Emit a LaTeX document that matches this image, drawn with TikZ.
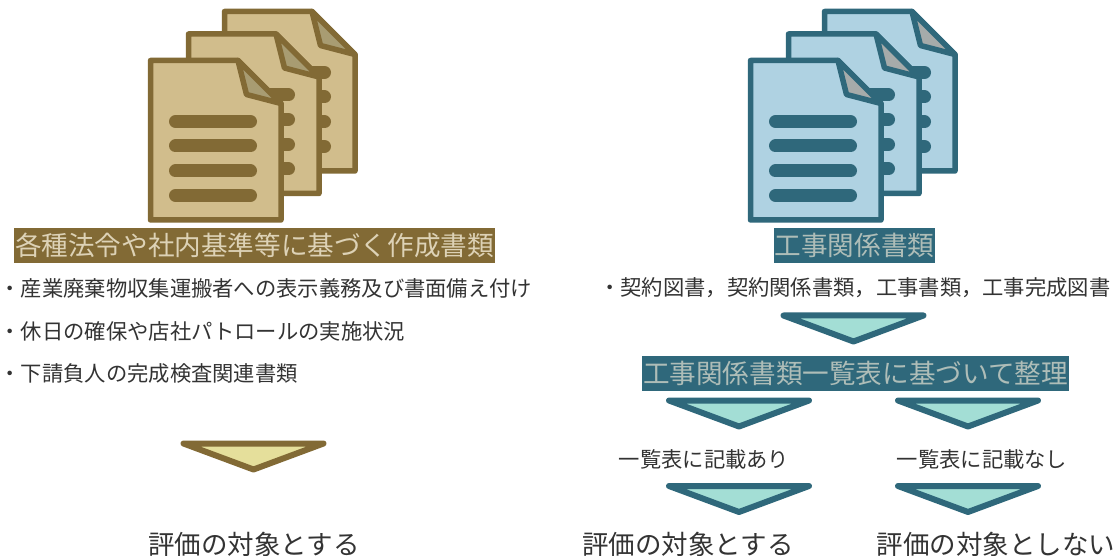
\documentclass[tikz,border=0pt]{standalone}
\usepackage{fontspec}
\setmainfont{Noto Sans CJK JP}
\definecolor{brownS}{HTML}{826A35}
\definecolor{brownF}{HTML}{D1BD8C}
\definecolor{brownD}{HTML}{A89C72}
\definecolor{brownT}{HTML}{DDD2B6}
\definecolor{blueS}{HTML}{2F687B}
\definecolor{blueF}{HTML}{AFD2E2}
\definecolor{blueD}{HTML}{A6ABAA}
\definecolor{blueT}{HTML}{AEBDB8}
\definecolor{triB}{HTML}{A3DED5}
\definecolor{triY}{HTML}{E5DF9B}
\definecolor{inkT}{HTML}{333333}
\newcommand{\sheetat}[5]{%
  \begin{scope}[shift={(#1,#2)},line join=round]
    \foreach \ly in {61,85.5,110.5,135}
      \draw[#3,line width=13pt,line cap=round] (25,\ly) -- (100,\ly);
    \fill[#4] (0,0) -- (87.5,0) -- (130.5,43) -- (130.5,159.5) -- (0,159.5) -- cycle;
    \foreach \ly in {61,85.5,110.5,135}
      \draw[#3,line width=13pt,line cap=round] (25,\ly) -- (100,\ly);
    \draw[#3,line width=5.5pt] (0,0) -- (87.5,0) -- (130.5,43) -- (130.5,159.5) -- (0,159.5) -- cycle;
    \draw[#3,fill=#5,line width=5.5pt] (87.5,0) -- (96,34) -- (130.5,43) -- cycle;
  \end{scope}}
\newcommand{\trimark}[4]{%
  \draw[#3,fill=#4,line width=6pt,line join=round] (#1-70,#2) -- (#1+70,#2) -- (#1,#2+26) -- cycle;}
\tikzset{
  big/.style={font=\fontsize{26.5}{30}\selectfont,text=inkT,inner sep=0pt},
  small/.style={font=\fontsize{21.3}{25}\selectfont,text=inkT,inner sep=0pt},
  band/.style={font=\fontsize{26.6}{30}\selectfont,inner sep=0pt,minimum height=35pt}
}
\begin{document}
\begin{tikzpicture}[x=1pt,y=-1pt]
\useasboundingbox (0,0) rectangle (1120,556);
\fill[white] (0,0) rectangle (1120,556);
% left documents
\sheetat{224.5}{11.5}{brownS}{brownF}{brownD}
\sheetat{188.5}{34}{brownS}{brownF}{brownD}
\sheetat{150.5}{60.5}{brownS}{brownF}{brownD}
% right documents
\sheetat{824.5}{11.5}{blueS}{blueF}{blueD}
\sheetat{788.5}{34}{blueS}{blueF}{blueD}
\sheetat{750.5}{60.5}{blueS}{blueF}{blueD}
% bands
\node[band,fill=brownS,text=brownT,minimum width=481pt] (lh) at (254.5,245.5) {各種法令や社内基準等に基づく作成書類};
\node[band,fill=blueS,text=blueT,minimum width=161pt] (rh) at (854.5,245.5) {工事関係書類};
\node[band,fill=blueS,text=blueT,minimum width=427pt] (rm) at (855.5,373.5) {工事関係書類一覧表に基づいて整理};
% bullets
\node[small,anchor=west] (l1) at (-0.5,288) {・産業廃棄物収集運搬者への表示義務及び書面備え付け};
\node[small,anchor=west] (l2) at (-0.5,331) {・休日の確保や店社パトロールの実施状況};
\node[small,anchor=west] (l3) at (-0.5,373.5) {・下請負人の完成検査関連書類};
\node[small,anchor=west] (r1) at (599,288) {・契約図書，契約関係書類，工事書類，工事完成図書};
% triangles
\trimark{253.5}{443.5}{brownS}{triY}
\trimark{853.5}{315.5}{blueS}{triB}
\trimark{739}{400.5}{blueS}{triB}
\trimark{968}{400.5}{blueS}{triB}
\trimark{739}{486}{blueS}{triB}
\trimark{968}{486}{blueS}{triB}
% labels
\node[small] (c1) at (704,459) {一覧表に記載あり};
\node[small] (c2) at (982,459) {一覧表に記載なし};
\node[big] (e1) at (254,544) {評価の対象とする};
\node[big] (e2) at (688,544) {評価の対象とする};
\node[big] (e3) at (996,544) {評価の対象としない};
\end{tikzpicture}
\end{document}
